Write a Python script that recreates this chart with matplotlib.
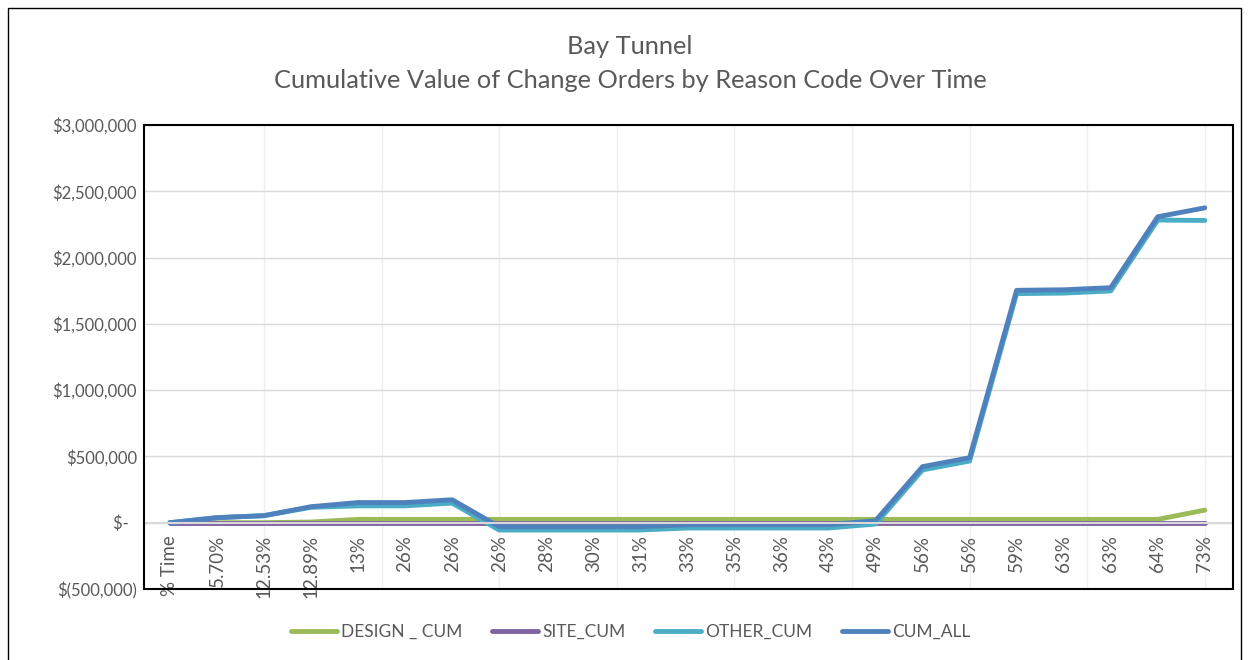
import matplotlib.pyplot as plt
from matplotlib.patches import Rectangle
from matplotlib.ticker import FuncFormatter

plt.rcParams['font.family'] = ['Lato', 'DejaVu Sans']

# % of contract time (category labels)
time_labels = ["% Time", "5.70%", "12.53%", "12.89%", "13%", "26%", "26%", "26%",
               "28%", "30%", "31%", "33%", "35%", "36%", "43%", "49%", "56%",
               "56%", "59%", "63%", "63%", "64%", "73%"]

design_cum = [0, 0, 0, 5000, 25000, 25000, 25000, 25000, 25000, 25000, 25000, 25000,
              25000, 25000, 25000, 25000, 25000, 25000, 25000, 25000, 25000, 25000, 95000]
site_cum = [0] * 23
other_cum = [0, 38000, 53000, 116000, 127000, 127000, 148000, -55000, -55000, -55000,
             -55000, -40000, -40000, -40000, -40000, -10000, 398000, 465000, 1728000,
             1732000, 1748000, 2283000, 2280000]
cum_all = [0, 38000, 53000, 121000, 152000, 152000, 173000, -30000, -30000, -30000,
           -30000, -15000, -15000, -15000, -15000, 15000, 423000, 490000, 1753000,
           1757000, 1773000, 2308000, 2375000]

fig = plt.figure(figsize=(12.49, 6.60), dpi=100)
ax = fig.add_axes([0.1153, 0.1076, 0.8719, 0.703])

x = list(range(len(time_labels)))
ax.plot(x, design_cum, color='#9BBB59', lw=3.5, label='DESIGN _ CUM', solid_capstyle='round')
ax.plot(x, site_cum, color='#8064A2', lw=3.5, label='SITE_CUM', solid_capstyle='round')
ax.plot(x, other_cum, color='#4BACC6', lw=3.5, label='OTHER_CUM', solid_capstyle='round')
ax.plot(x, cum_all, color='#4F81BD', lw=3.5, label='CUM_ALL', solid_capstyle='round')

# horizontal axis crosses at zero
ax.spines['bottom'].set_position(('data', 0))
ax.spines['bottom'].set_color('#D9D9D9')
ax.spines['bottom'].set_linewidth(1.5)
for s in ['top', 'left', 'right']:
    ax.spines[s].set_visible(False)
ax.add_patch(Rectangle((0, 0), 1, 1, transform=ax.transAxes, fill=False,
                       edgecolor='black', lw=1.5, clip_on=False, zorder=5))

ax.set_xlim(-0.55, 22.6)
ax.set_ylim(-500000, 3000000)
ax.set_yticks(range(-500000, 3000001, 500000))


def money(v, pos):
    if v == 0:
        return "$-  "
    if v < 0:
        return "$({:,.0f})".format(-v)
    return "${:,.0f}".format(v)


ax.yaxis.set_major_formatter(FuncFormatter(money))
ax.set_xticks(x)
ax.set_xticklabels(time_labels)

ax.tick_params(axis='both', length=0, labelsize=12, labelcolor='#595959')
ax.tick_params(axis='x', pad=9, labelrotation=90, labelsize=13.5)
ax.tick_params(axis='y', pad=5)

# gridlines
ax.yaxis.grid(True, color='#D9D9D9', lw=1)
for gx in [2, 4.5, 7, 9.5, 12, 14.5, 17, 19.5, 22]:
    ax.axvline(gx, color='#EFEFEF', lw=1, zorder=0)
ax.set_axisbelow(True)

fig.text(0.5044, 0.93, "Bay Tunnel", ha='center', va='center', fontsize=18.3, color='#595959')
fig.text(0.5044, 0.878, "Cumulative Value of Change Orders by Reason Code Over Time",
         ha='center', va='center', fontsize=18.3, color='#595959')

fig.legend(loc='center', bbox_to_anchor=(0.505, 0.043), ncol=4, frameon=False,
           fontsize=12.5, labelcolor='#595959', handlelength=2.65, handletextpad=0.25,
           columnspacing=1.7)

# chart border
fig.add_artist(Rectangle((8 / 1249, -0.1), 1233 / 1249, 1.1 - 8 / 660,
                         transform=fig.transFigure, fill=False, edgecolor='black', lw=1))

fig.savefig('out.png', dpi=100)
